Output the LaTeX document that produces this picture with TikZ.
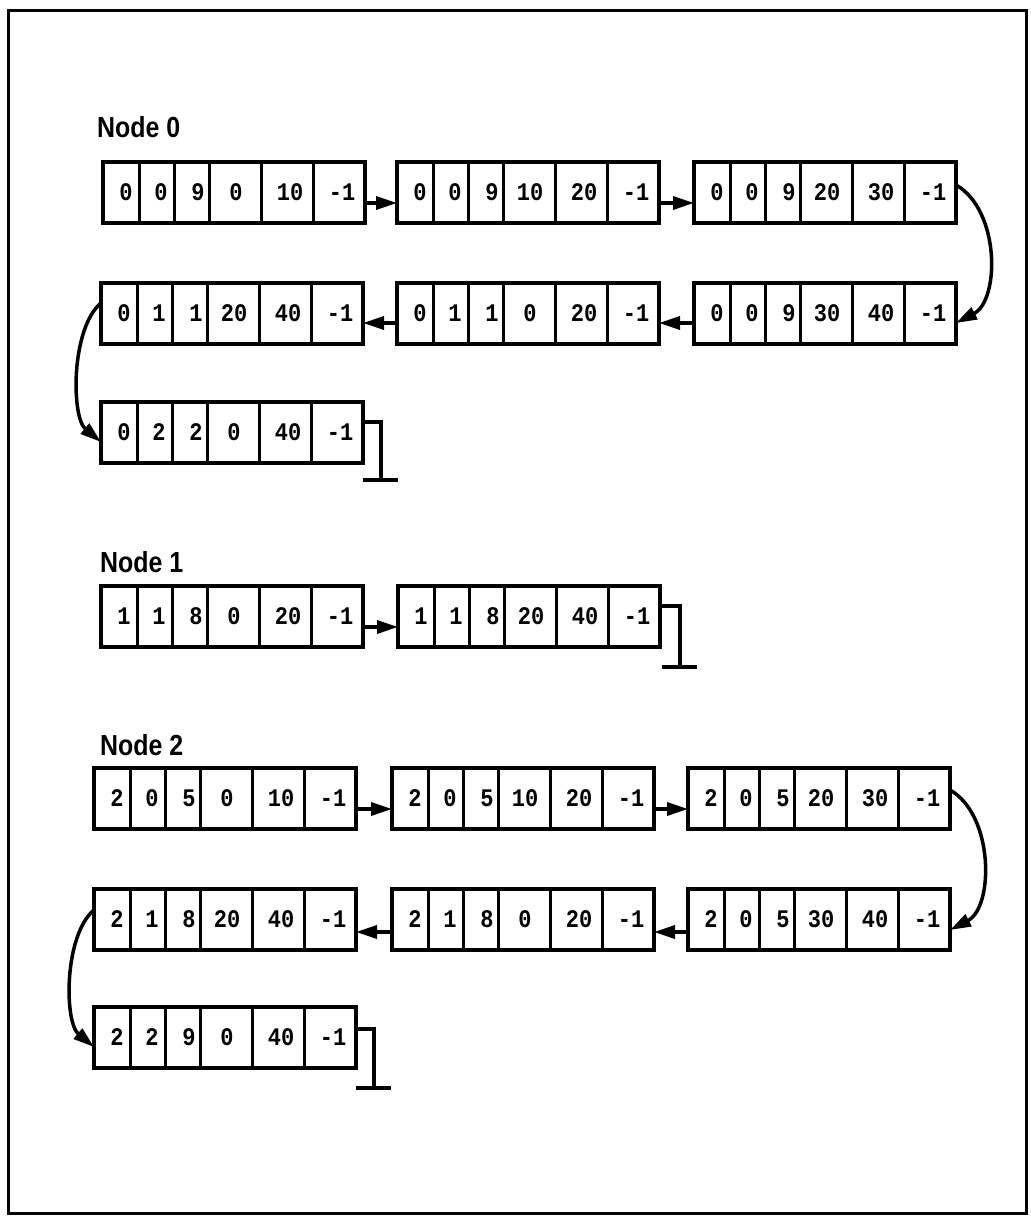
\documentclass[tikz,border=0pt]{standalone}
\usepackage{fontspec}
\setmainfont{Liberation Sans}
\newfontfamily\cellfont{Liberation Mono}
\usetikzlibrary{arrows.meta}
\tikzset{
  recbox/.style={draw, line width=3.5pt, minimum width=262pt, minimum height=61pt, inner sep=0pt, outer sep=0pt, anchor=north west},
  div/.style={line width=3pt},
  celltxt/.style={font=\cellfont\bfseries\fontsize{22}{22}\selectfont, inner sep=0pt},
  lbl/.style={font=\bfseries\fontsize{29}{29}\selectfont, anchor=west, inner sep=0pt},
  link/.style={line width=3.5pt, -{Triangle[length=21pt,width=13pt]}},
  nil/.style={line width=3.5pt},
  frame/.style={line width=3pt}
}
\newcommand{\recrow}[9]{%
  \node[recbox] (#1) at ({#2},{#3}) {};
  \foreach \d in {36,71,106,158,210} \draw[div] ({#2+\d},{#3}) -- ({#2+\d},{#3+61});
  \node[celltxt] (#1c1) at ({#2+23},{#3+30}) {\scalebox{1}[1.15]{#4}};
  \node[celltxt] (#1c2) at ({#2+58},{#3+30}) {\scalebox{1}[1.15]{#5}};
  \node[celltxt] (#1c3) at ({#2+95},{#3+30}) {\scalebox{1}[1.15]{#6}};
  \node[celltxt] (#1c4) at ({#2+133},{#3+30}) {\scalebox{1}[1.15]{#7}};
  \node[celltxt] (#1c5) at ({#2+187},{#3+30}) {\scalebox{1}[1.15]{#8}};
  \node[celltxt] (#1c6) at ({#2+239},{#3+30}) {\scalebox{1}[1.15]{#9}};
}
\begin{document}
\begin{tikzpicture}[x=1pt,y=-1pt]
\useasboundingbox (0,0) rectangle (1030,1217);
\draw[frame] (8,11) rectangle (1026,1213);

% Node 0
\node[lbl] (lab0) at (97,127) {\scalebox{0.86}[1]{Node 0}};
\recrow{A}{103}{162}{0}{0}{9}{0}{10}{-1}
\recrow{B}{397}{162}{0}{0}{9}{10}{20}{-1}
\recrow{C}{694}{162}{0}{0}{9}{20}{30}{-1}
\recrow{F}{101}{283}{0}{1}{1}{20}{40}{-1}
\recrow{E}{397}{283}{0}{1}{1}{0}{20}{-1}
\recrow{D}{694}{283}{0}{0}{9}{30}{40}{-1}
\recrow{G}{101}{402}{0}{2}{2}{0}{40}{-1}

\draw[link] ([yshift=-41pt]A.north east) -- ([yshift=-41pt]B.north west);
\draw[link] ([yshift=-41pt]B.north east) -- ([yshift=-41pt]C.north west);
\draw[link] ([yshift=-23pt]C.north east) .. controls +(44,25) and +(44,-23) .. ([yshift=-40pt]D.north east);
\draw[link] ([yshift=-40pt]D.north west) -- ([yshift=-40pt]E.north east);
\draw[link] ([yshift=-40pt]E.north west) -- ([yshift=-40pt]F.north east);
\draw[link] ([yshift=-20pt]F.north west) .. controls +(-30,25) and +(-30,-25) .. ([yshift=-40pt]G.north west);
\coordinate (Gn) at ([xshift=18pt,yshift=-78pt]G.north east);
\draw[nil] ([yshift=-20pt]G.north east) -| (Gn);
\draw[nil] ([xshift=-18pt]Gn) -- ([xshift=17pt]Gn);

% Node 1
\node[lbl] (lab1) at (100,562) {\scalebox{0.86}[1]{Node 1}};
\recrow{H}{101}{586}{1}{1}{8}{0}{20}{-1}
\recrow{I}{398}{586}{1}{1}{8}{20}{40}{-1}
\draw[link] ([yshift=-41pt]H.north east) -- ([yshift=-41pt]I.north west);
\coordinate (In) at ([xshift=20pt,yshift=-81pt]I.north east);
\draw[nil] ([yshift=-20pt]I.north east) -| (In);
\draw[nil] ([xshift=-18pt]In) -- ([xshift=17pt]In);

% Node 2
\node[lbl] (lab2) at (100,745) {\scalebox{0.86}[1]{Node 2}};
\recrow{J}{94}{768}{2}{0}{5}{0}{10}{-1}
\recrow{K}{392}{768}{2}{0}{5}{10}{20}{-1}
\recrow{L}{688}{768}{2}{0}{5}{20}{30}{-1}
\recrow{M}{94}{889}{2}{1}{8}{20}{40}{-1}
\recrow{N}{392}{889}{2}{1}{8}{0}{20}{-1}
\recrow{O}{688}{889}{2}{0}{5}{30}{40}{-1}
\recrow{P}{94}{1007}{2}{2}{9}{0}{40}{-1}

\draw[link] ([yshift=-41pt]J.north east) -- ([yshift=-41pt]K.north west);
\draw[link] ([yshift=-41pt]K.north east) -- ([yshift=-41pt]L.north west);
\draw[link] ([yshift=-22pt]L.north east) .. controls +(44,25) and +(44,-23) .. ([yshift=-41pt]O.north east);
\draw[link] ([yshift=-43pt]O.north west) -- ([yshift=-43pt]N.north east);
\draw[link] ([yshift=-43pt]N.north west) -- ([yshift=-43pt]M.north east);
\draw[link] ([yshift=-21pt]M.north west) .. controls +(-30,25) and +(-30,-25) .. ([yshift=-40pt]P.north west);
\coordinate (Pn) at ([xshift=18pt,yshift=-81pt]P.north east);
\draw[nil] ([yshift=-22pt]P.north east) -| (Pn);
\draw[nil] ([xshift=-18pt]Pn) -- ([xshift=17pt]Pn);
\end{tikzpicture}
\end{document}
